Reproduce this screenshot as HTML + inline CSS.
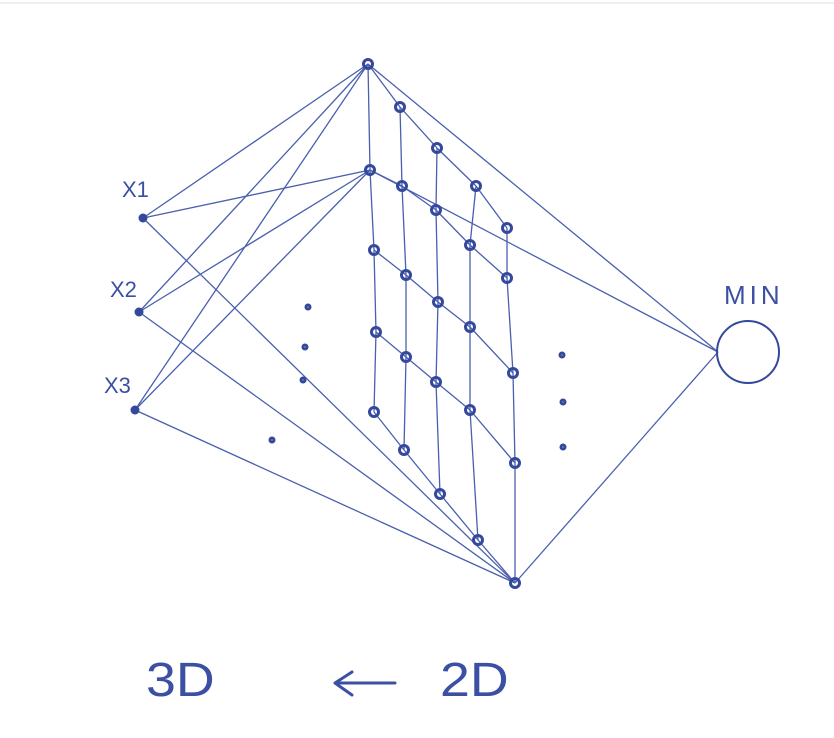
<!DOCTYPE html>
<html><head><meta charset="utf-8">
<style>
html,body{margin:0;padding:0;background:#fff;}
svg{display:block;}
text{font-family:"Liberation Sans",sans-serif;fill:#3b4fa3;}
</style></head>
<body>
<svg id="s" width="834" height="738" viewBox="0 0 834 738">
<line x1="0" y1="3" x2="834" y2="3" stroke="#ddd" stroke-width="1"/>
<g id="lines" stroke="#4a5fae" stroke-width="1.3" fill="none"></g>
<g id="nodes" fill="none" stroke="#34489c" stroke-width="3"></g>
<circle cx="748" cy="352" r="31" fill="none" stroke="#34489c" stroke-width="2"/>
<text x="122" y="197" font-size="22">X1</text>
<text x="110" y="297" font-size="22">X2</text>
<text x="104" y="393" font-size="22">X3</text>
<text x="724" y="304" font-size="26" letter-spacing="4">MIN</text>
<text x="146" y="696" font-size="48" transform="translate(146,0) scale(1.12,1) translate(-146,0)" style="font-weight:300">3D</text>
<path d="M395 683 L335 683 M352 672 L335 683 L352 695" stroke="#3b4fa3" stroke-width="3" fill="none" stroke-linecap="round" stroke-linejoin="round"/>
<text x="440" y="696" font-size="48" transform="translate(440,0) scale(1.12,1) translate(-440,0)">2D</text>
</svg>
<script>
const inputs=[[143,218],[139,312],[135,410]];
const hubs=[[368,64],[370,170],[515,583]];
const minNode=[718,352];
const grid=[
 [[368,64],[400,107],[437,148],[476,186],[507,228]],
 [[370,170],[402,186],[436,210],[470,245],[507,278]],
 [[374,250],[406,275],[438,302],[470,327],[513,373]],
 [[376,332],[406,357],[436,382],[470,410],[515,463]],
 [[374,412],[404,450],[440,494],[478,540],[515,583]]
];
const dots=[[308,307],[305,347],[303,380],[562,355],[563,402],[563,447],[272,440]];
const NS="http://www.w3.org/2000/svg";
const L=document.getElementById('lines'),N=document.getElementById('nodes');
function line(a,b,name){const e=document.createElementNS(NS,'line');
e.setAttribute('x1',a[0]);e.setAttribute('y1',a[1]);e.setAttribute('x2',b[0]);e.setAttribute('y2',b[1]);


L.appendChild(e);}
function node(p,r,name,fill){const e=document.createElementNS(NS,'circle');
e.setAttribute('cx',p[0]);e.setAttribute('cy',p[1]);e.setAttribute('r',r);
if(fill){e.setAttribute('fill','#34489c');e.setAttribute('stroke','none');}


N.appendChild(e);}
inputs.forEach(p=>hubs.forEach(h=>line(p,h,'input-edge')));
hubs.forEach(h=>line(h,minNode,'min-edge'));
for(let r=0;r<5;r++)for(let c=0;c<4;c++)line(grid[r][c],grid[r][c+1],'grid-row-edge');
for(let c=0;c<5;c++)for(let r=0;r<4;r++)line(grid[r][c],grid[r+1][c],'grid-col-edge');
grid.forEach(row=>row.forEach(p=>node(p,4.5,'grid-node',false)));
inputs.forEach(p=>node(p,4.5,'input-node',true));
dots.forEach(p=>node(p,2,'ellipsis-dot',false));
</script>
</body></html>
